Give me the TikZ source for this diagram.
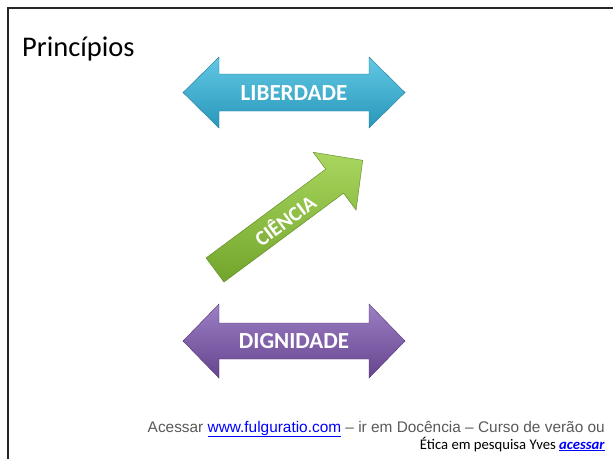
\documentclass[tikz,border=0pt]{standalone}
\usepackage{fontspec}
\setmainfont{Carlito}
\newfontfamily\arialfont{Liberation Sans}
\definecolor{libtop}{HTML}{62C8E4}
\definecolor{libbot}{HTML}{2897BA}
\definecolor{digtop}{HTML}{9C7FC4}
\definecolor{digbot}{HTML}{66448F}
\definecolor{cietop}{HTML}{A9D65E}
\definecolor{ciebot}{HTML}{72A52C}
\definecolor{footgray}{HTML}{595959}
\definecolor{linkblue}{HTML}{0000FF}
\tikzset{
  arrowlabel/.style={text=white, font=\bfseries\fontsize{23}{27}\selectfont, inner sep=0pt},
  frameline/.style={line width=2.5pt, draw=black!85},
}
\begin{document}
\begin{tikzpicture}[x=1pt,y=1pt]
\useasboundingbox (0,0) rectangle (613,-459);
\draw[frameline] (613,-8) -- (8,-8) -- (8,-459);
\node[anchor=base west, inner sep=0pt, font=\fontsize{28.5}{32}\selectfont] (title) at (22,-56) {Princípios};
% LIBERDADE double arrow
\path[top color=libtop, bottom color=libbot, draw=libbot!80!black, line width=0.4pt]
  (183,-92.5) -- (219,-57) -- (219,-74) -- (369,-74) -- (369,-57) -- (405,-92.5)
  -- (369,-128) -- (369,-111) -- (219,-111) -- (219,-128) -- cycle;
\node[arrowlabel] (lib) at (294,-93) {LIBERDADE};
% DIGNIDADE double arrow
\path[top color=digtop, bottom color=digbot, draw=digbot!80!black, line width=0.4pt]
  (183,-341) -- (219,-304) -- (219,-323) -- (369,-323) -- (369,-304) -- (405,-341)
  -- (369,-378) -- (369,-359) -- (219,-359) -- (219,-378) -- cycle;
\node[arrowlabel] (dig) at (294,-341) {DIGNIDADE};
% CIENCIA single arrow
\begin{scope}[shift={(215,-270)}, rotate=36.6]
  \path[top color=cietop, bottom color=ciebot, draw=ciebot!80!black, line width=0.4pt]
    (0,-15) -- (149,-15) -- (149,-36) -- (184,0) -- (149,36) -- (149,15) -- (0,15) -- cycle;
  \node[arrowlabel, font=\bfseries\fontsize{21}{25}\selectfont, rotate=36.6] (cie) at (86,-1) {CIÊNCIA};
\end{scope}
% footer
\node[anchor=base east, inner sep=0pt, text=footgray, font=\arialfont\fontsize{15.4}{18}\selectfont] (foot1) at (605,-432)
  {Acessar \textcolor{linkblue}{\underline{www.fulguratio.com}} – ir em Docência – Curso de verão ou};
\node[anchor=base east, inner sep=0pt, text=black, font=\fontsize{14.7}{17}\selectfont] (foot2) at (605,-449)
  {Ética em pesquisa Yves \textcolor{linkblue}{\underline{\textbf{\textit{acessar}}}}};
\end{tikzpicture}
\end{document}
